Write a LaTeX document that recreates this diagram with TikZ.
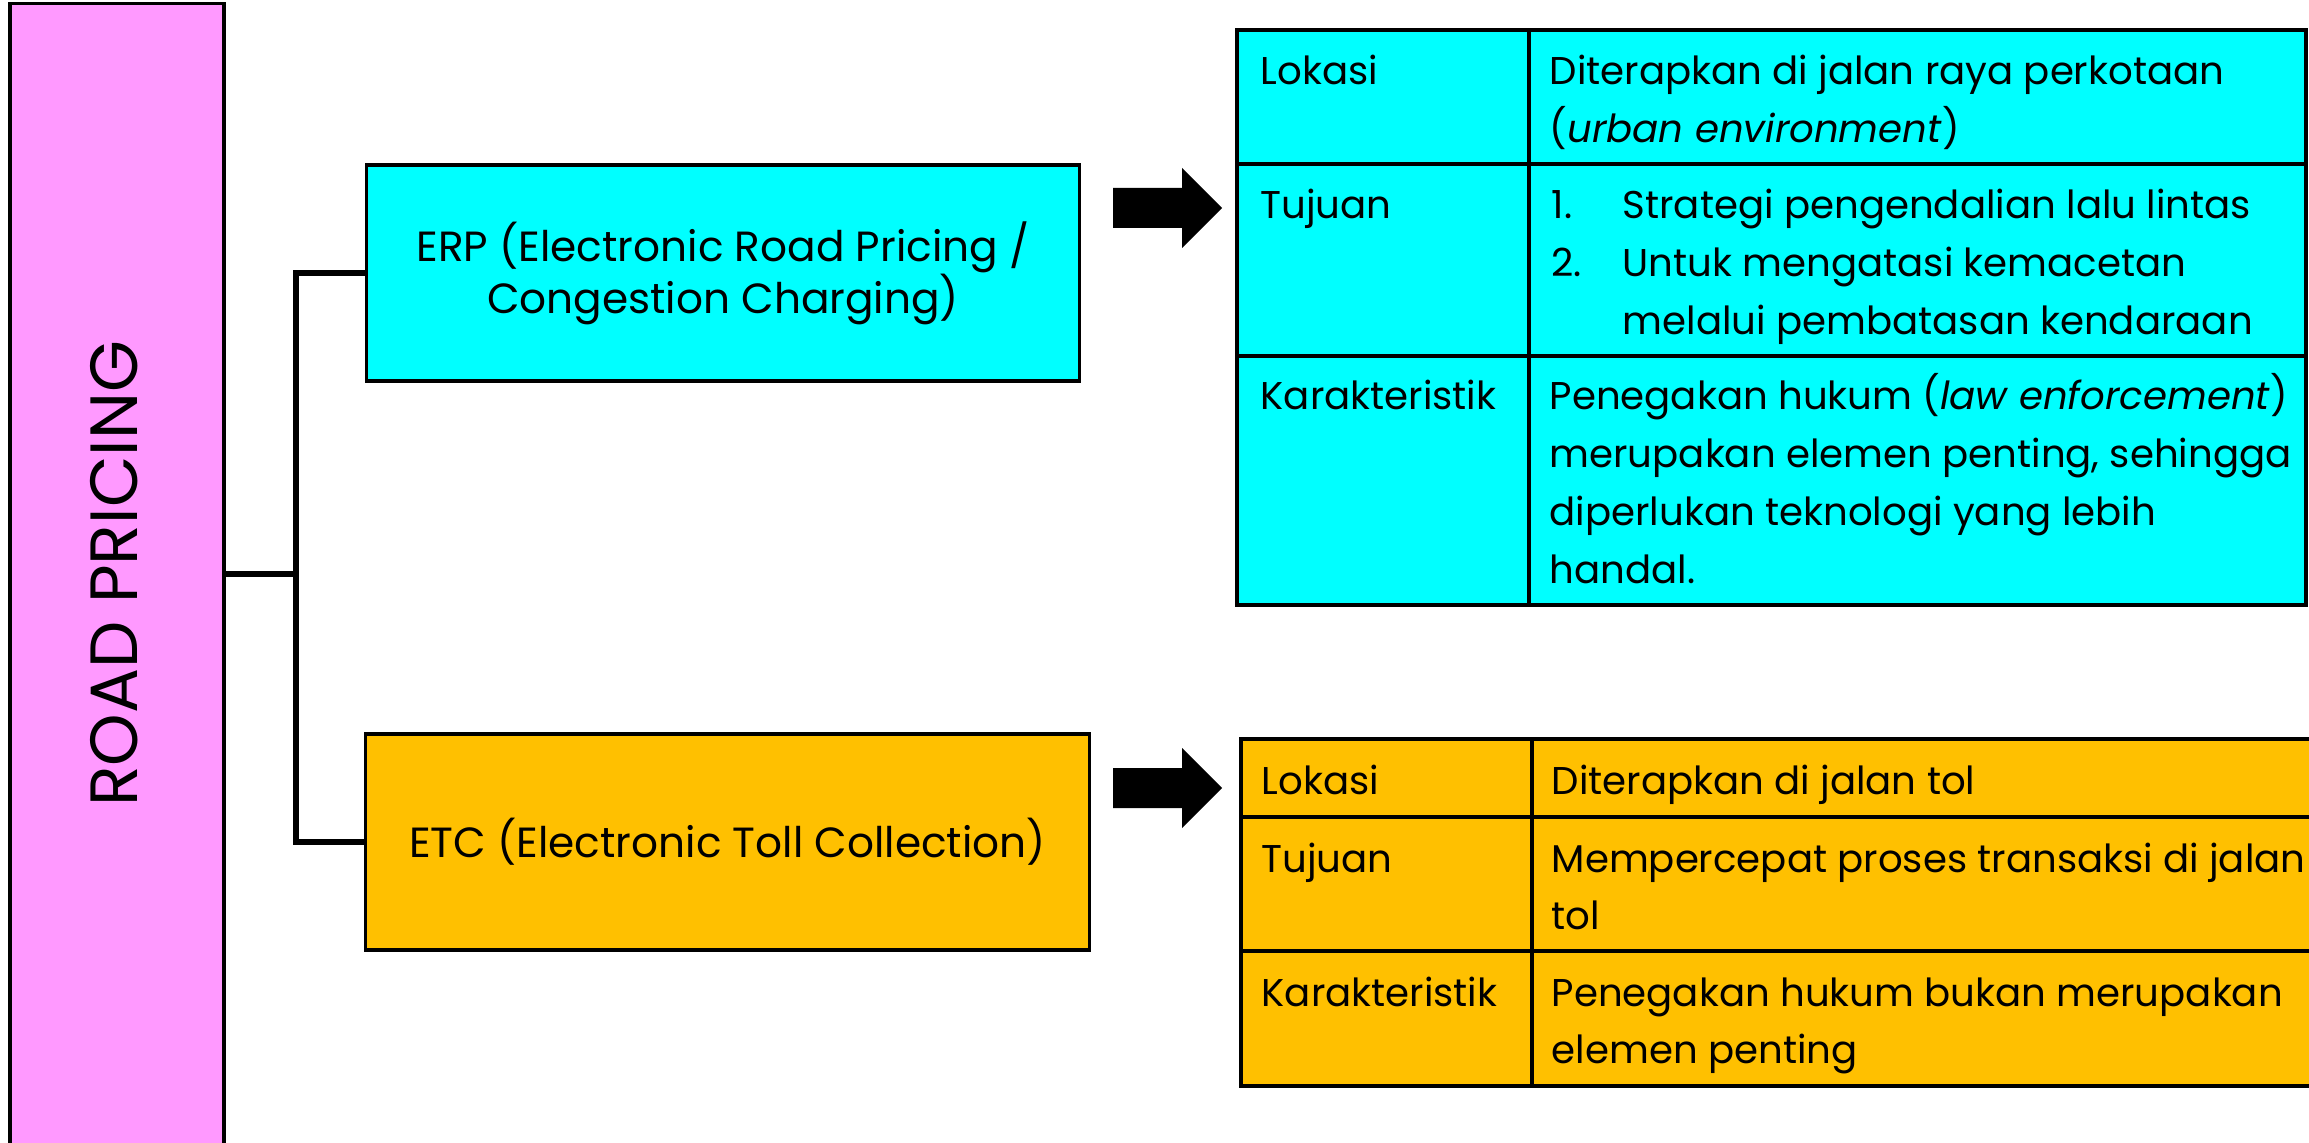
\documentclass[tikz,border=0pt]{standalone}
\usepackage{fontspec}
\setmainfont{Poppins}
\usetikzlibrary{positioning}

\definecolor{rppink}{HTML}{FF99FF}
\definecolor{erpcyan}{HTML}{00FFFF}
\definecolor{etcgold}{HTML}{FFC000}

\newcommand{\tcell}[1]{\begin{tabular}[t]{@{}l@{}}#1\end{tabular}}

\tikzset{
  mainbox/.style={draw=black, line width=0.9pt, fill=rppink, minimum width=2.14cm,
    minimum height=11.46cm, inner sep=0pt},
  typebox/.style={draw=black, line width=0.9pt, minimum height=2.16cm, align=center,
    inner sep=0pt, font=\fontsize{12}{14.8}\selectfont},
  link/.style={line width=1.5pt, line join=miter},
  cellline/.style={line width=1pt},
  celltext/.style={anchor=base west, inner sep=0pt, font=\fontsize{11}{16.4}\selectfont},
  bigarrow/.style={fill=black}
}

\begin{document}
\begin{tikzpicture}[x=0.01cm, y=-0.01cm]

\useasboundingbox (0,0) rectangle (2309,1143);

% left column
\node[mainbox] (rp) at (117,577) {};
\node[rotate=90, font=\fontsize{19}{22}\selectfont] (rptext) at (114,574) {ROAD PRICING};

\node[typebox, fill=erpcyan, minimum width=7.12cm] (erp) at (723,273)
  {ERP (Electronic Road Pricing /\\Congestion Charging)};
\node[typebox, fill=etcgold, minimum width=7.23cm] (etc) at (727.5,842)
  {ETC (Electronic Toll Collection)};

\coordinate (fork) at (296,574);
\draw[link] (rp.east |- fork) -- (fork);
\draw[link] (erp.west) -| (fork) |- (etc.west);

% arrows
\fill[bigarrow] (1113,188) -- (1182,188) -- (1182,168) -- (1222,208)
  -- (1182,248) -- (1182,228) -- (1113,228) -- cycle;
\begin{scope}[shift={(0,580)}]
\fill[bigarrow] (1113,188) -- (1182,188) -- (1182,168) -- (1222,208)
  -- (1182,248) -- (1182,228) -- (1113,228) -- cycle;
\end{scope}

% ERP table
\draw[cellline, fill=erpcyan] (1237,30) rectangle (2306,605);
\draw[cellline] (1529,30) -- (1529,605);
\draw[cellline] (1237,164) -- (2306,164);
\draw[cellline] (1237,356) -- (2306,356);

\node[celltext] (erplok) at (1260,85) {Lokasi};
\node[celltext] (erplokval) at (1549,85)
  {\tcell{Diterapkan di jalan raya perkotaan\\(\textit{urban environment})}};
\node[celltext] (erptuj) at (1260,219) {Tujuan};
\node[celltext] (erptujval) at (1551,219)
  {\begin{tabular}[t]{@{}p{0.71cm}@{}l@{}}
   1. & Strategi pengendalian lalu lintas\\
   2. & Untuk mengatasi kemacetan\\
      & melalui pembatasan kendaraan
   \end{tabular}};
\node[celltext] (erpkar) at (1260,410) {Karakteristik};
\node[celltext] (erpkarval) at (1549,410)
  {\tcell{Penegakan hukum (\textit{law enforcement})\\merupakan elemen penting, sehingga\\diperlukan teknologi yang lebih\\handal.}};

% ETC table
\draw[cellline, fill=etcgold] (1241,739) rectangle (2314,1086);
\draw[cellline] (1532,739) -- (1532,1086);
\draw[cellline] (1241,817) -- (2314,817);
\draw[cellline] (1241,951) -- (2314,951);

\node[celltext] (etclok) at (1261,794) {Lokasi};
\node[celltext] (etclokval) at (1551,794) {Diterapkan di jalan tol};
\node[celltext] (etctuj) at (1261,872) {Tujuan};
\node[celltext] (etctujval) at (1551,872)
  {\tcell{Mempercepat proses transaksi di jalan\\tol}};
\node[celltext] (etckar) at (1261,1006) {Karakteristik};
\node[celltext] (etckarval) at (1551,1006)
  {\tcell{Penegakan hukum bukan merupakan\\elemen penting}};

\end{tikzpicture}
\end{document}
